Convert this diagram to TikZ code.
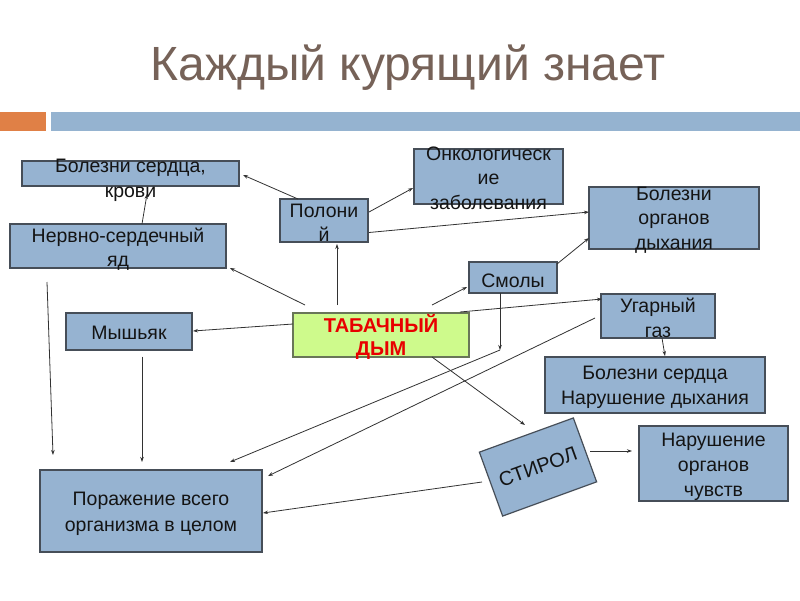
\documentclass[tikz,border=0pt]{standalone}
\usepackage{fontspec}
\setmainfont{Liberation Sans}
\usetikzlibrary{arrows.meta,calc}
\definecolor{boxfill}{RGB}{150,179,209}
\definecolor{boxline}{RGB}{70,78,88}
\definecolor{greenfill}{RGB}{206,250,140}
\definecolor{greenline}{RGB}{105,118,88}
\definecolor{redtxt}{RGB}{232,0,0}
\definecolor{conn}{RGB}{50,50,50}
\definecolor{titlec}{RGB}{118,98,88}
\definecolor{orangebar}{RGB}{224,128,70}
\definecolor{bluebar}{RGB}{149,179,208}
\definecolor{txt}{RGB}{20,20,20}
\begin{document}
\begin{tikzpicture}[x=1pt,y=-1pt,
  box/.style={draw=boxline, fill=boxfill, line width=1.2pt, inner sep=0pt, outer sep=0pt},
  lbl/.style={inner sep=0pt, align=center, font=\fontsize{19.5}{24.5}\selectfont, text=txt},
  con/.style={draw=conn, line width=0.8pt, -{Stealth[length=5pt,width=3.5pt]}}]
\useasboundingbox (0,0) rectangle (800,600);
\fill[white] (0,0) rectangle (800,600);
% title and bars
\node[font=\fontsize{48}{56}\selectfont, text=titlec, anchor=base, inner sep=0pt] (title) at (408,80) {Каждый курящий знает};
\fill[orangebar] (0,112) rectangle (46,131);
\fill[bluebar] (51,112) rectangle (800,131);
% boxes
\node[box, minimum width=217pt, minimum height=25pt] (bsk) at (130.5,173.5) {};
\node[lbl] (bskt) at ($(bsk)+(0,7)$) {Болезни сердца,\\крови};
\node[box, minimum width=216pt, minimum height=44pt] (nsy) at (118,246) {};
\node[lbl] (nsyt) at ($(nsy)+(0,3)$) {Нервно-сердечный\\яд};
\node[box, minimum width=88pt, minimum height=43pt] (pol) at (324,220.5) {};
\node[lbl] (polt) at ($(pol)+(0,2.5)$) {Полони\\й};
\node[box, minimum width=149pt, minimum height=55pt] (onk) at (488.5,176.5) {};
\node[lbl] (onkt) at ($(onk)+(0,1.5)$) {Онкологическ\\ие\\заболевания};
\node[box, minimum width=170pt, minimum height=62pt] (bod) at (674,218) {};
\node[lbl] (bodt) at ($(bod)+(0,2)$) {Болезни\\органов\\дыхания};
\node[box, minimum width=88pt, minimum height=31pt] (smo) at (513,277.5) {};
\node[lbl] (smot) at ($(smo)+(0,3)$) {Смолы};
\node[box, minimum width=114pt, minimum height=44pt] (ugr) at (658,316) {};
\node[lbl] (ugrt) at ($(ugr)+(0,2)$) {Угарный\\газ};
\node[box, draw=greenline, fill=greenfill, minimum width=176pt, minimum height=44pt] (tab) at (381,335) {};
\node[lbl, text=redtxt, font=\bfseries\fontsize{20}{23.5}\selectfont] (tabt) at ($(tab)+(0,2)$) {ТАБАЧНЫЙ\\ДЫМ};
\node[box, minimum width=126pt, minimum height=37pt] (mys) at (129,331.5) {};
\node[lbl] (myst) at ($(mys)+(0,1)$) {Мышьяк};
\node[box, minimum width=220pt, minimum height=56pt] (bsn) at (655,385) {};
\node[lbl] (bsnt) at ($(bsn)+(0,2.5)$) {Болезни сердца\\Нарушение дыхания};
\node[box, rotate=20, minimum width=100pt, minimum height=68pt, align=center,
  font=\fontsize{20}{24}\selectfont, text=txt] (sty) at (538,467) {СТИРОЛ};
\node[box, minimum width=149pt, minimum height=75pt] (noc) at (713.5,463.5) {};
\node[lbl, font=\fontsize{19.5}{25}\selectfont] (noct) at ($(noc)+(0,3)$) {Нарушение\\органов\\чувств};
\node[box, minimum width=222pt, minimum height=82pt] (por) at (151,511) {};
\node[lbl, font=\fontsize{19.5}{26}\selectfont] (port) at ($(por)+(0,2.5)$) {Поражение всего\\организма в целом};
\coordinate (j1) at ($(smo.south)+(-13,57)$);
% connectors
\draw[con] ($(pol.north west)+(18,0)$) -- ($(bsk.east)+(4,1.5)$);
\draw[con] ($(nsy.north)+(24,0)$) -- ($(bsk.south)+(16.5,8)$);
\draw[con] ($(pol.east)+(1,-8.5)$) -- ($(onk.west)+(-1,11.5)$);
\draw[con] ($(pol.east)+(1,12)$) -- ($(bod.west)+(0,-6)$);
\draw[con] ($(tab.north)+(-44,-8)$) -- ($(pol.south)+(13,2)$);
\draw[con] ($(tab.north)+(-76,-8)$) -- ($(nsy.south east)+(4,0)$);
\draw[con] ($(smo.north east)+(0,2)$) -- ($(bod.west)+(0,20)$);
\draw[con] ($(tab.north)+(51,-8)$) -- ($(smo.west)+(-2,9.5)$);
\draw[con] ($(tab.north east)+(-9,-1)$) -- ($(ugr.west)+(1,-17)$);
\draw[con] ($(tab.west)+(0,-11)$) -- ($(mys.east)+(1,-0.5)$);
\draw[con] (smo.south -| j1) -- (j1);
\draw[con] (j1) -- ($(por.north east)+(-32,-8)$);
\draw[con] ($(ugr.west)+(-6,2)$) -- ($(por.north east)+(6,6)$);
\draw[con] ($(ugr.south)+(4,0)$) -- ($(bsn.north)+(10,-1)$);
\draw[con] ($(tab.south)+(51,0)$) -- ($(sty.center)+(-13,-42)$);
\draw[con] ($(sty.center)+(52,-16)$) -- ($(noc.west)+(-7,-12.5)$);
\draw[con] ($(sty.center)+(-56,15)$) -- ($(por.east)+(1,2)$);
\draw[con] ($(nsy.south)+(-71,14)$) -- ($(por.north west)+(13,-15)$);
\draw[con] ($(mys.south)+(13,6.5)$) -- ($(por.north)+(-9,-8)$);
\end{tikzpicture}
\end{document}
